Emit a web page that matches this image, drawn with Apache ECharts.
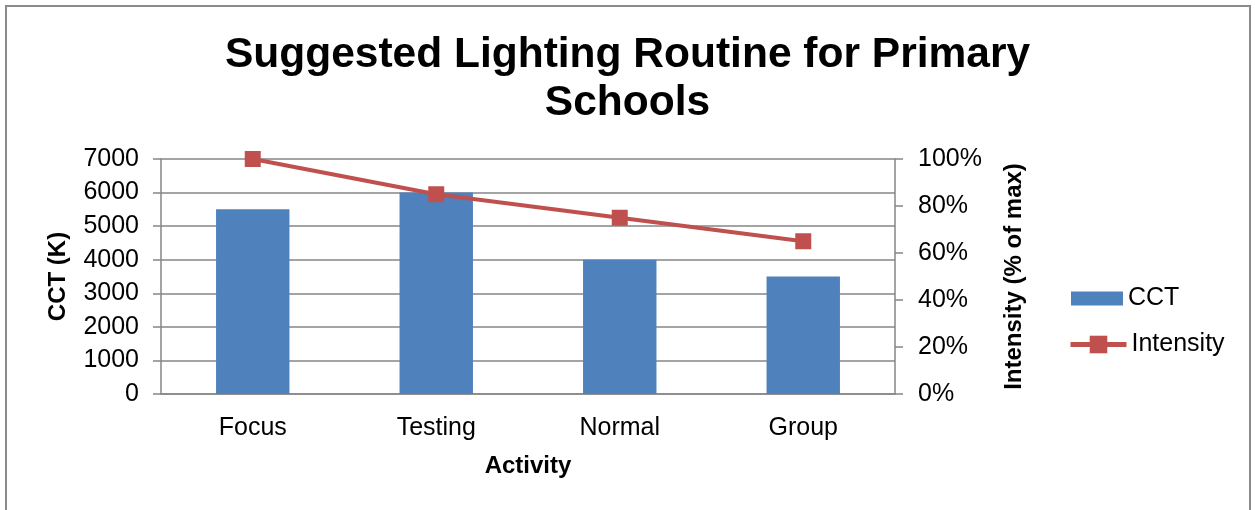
<!DOCTYPE html>
<html>
<head>
<meta charset="utf-8">
<script src="https://cdn.jsdelivr.net/npm/echarts@6/dist/echarts.min.js"></script>
<style>
  html, body { margin: 0; padding: 0; background: #fff; }
  #chart { width: 1255px; height: 510px; }
</style>
</head>
<body>
<div id="chart"></div>
<script>
// Activities and their lighting settings
const activities = ['Focus', 'Testing', 'Normal', 'Group'];
const cctValues = [5500, 6000, 4000, 3500];        // colour temperature, K
const intensityValues = [100, 85, 75, 65];          // % of maximum output

const FONT = '"Liberation Sans", Arial, sans-serif';
const AXIS_GREY = '#868686';
const BAR_BLUE = '#4F81BD';
const LINE_RED = '#C0504D';

const chart = echarts.init(document.getElementById('chart'), null, { renderer: 'canvas' });

const legendText = { fontFamily: FONT, fontSize: 25, color: '#000' };

chart.setOption({
  backgroundColor: '#ffffff',
  animation: false,
  textStyle: { fontFamily: FONT, color: '#000' },
  title: {
    text: 'Suggested Lighting Routine for Primary\nSchools',
    left: 'center',
    top: 26,
    textStyle: {
      fontFamily: FONT,
      fontSize: 42.5,
      fontWeight: 'bold',
      lineHeight: 48,
      color: '#000'
    }
  },
  graphic: [{
    type: 'rect',
    shape: { x: 6, y: 6, width: 1244, height: 530 },
    style: { fill: 'none', stroke: '#8a8a8a', lineWidth: 2 },
    silent: true
  }],
  legend: [
    {
      orient: 'vertical',
      left: 1066,
      top: 281,
      itemWidth: 52,
      itemHeight: 14,
      itemStyle: { borderWidth: 0 },
      textStyle: legendText,
      data: [{ name: 'CCT', icon: 'rect' }]
    },
    {
      orient: 'vertical',
      left: 1063,
      top: 327,
      itemWidth: 56,
      itemHeight: 22,
      itemGap: 0,
      itemStyle: { borderWidth: 0 },
      lineStyle: { width: 5, color: LINE_RED },
      textStyle: legendText,
      data: [{ name: 'Intensity' }]
    }
  ],
  grid: {
    left: 161,
    right: 360,
    top: 159,
    bottom: 116,
    containLabel: false
  },
  xAxis: {
    type: 'category',
    data: activities,
    name: 'Activity',
    nameLocation: 'middle',
    nameGap: 60,
    nameTextStyle: { fontFamily: FONT, fontSize: 24, fontWeight: 'bold', color: '#000' },
    axisLine: { lineStyle: { color: AXIS_GREY, width: 1.5 } },
    axisTick: { show: false },
    axisLabel: { fontFamily: FONT, fontSize: 25, color: '#000', margin: 22 }
  },
  yAxis: [
    {
      type: 'value',
      min: 0,
      max: 7000,
      interval: 1000,
      name: 'CCT (K)',
      nameLocation: 'middle',
      nameGap: 91,
      nameRotate: 90,
      nameTextStyle: { fontFamily: FONT, fontSize: 24, fontWeight: 'bold', color: '#000' },
      axisLine: { show: true, lineStyle: { color: AXIS_GREY, width: 1.5 } },
      axisTick: { show: true, inside: false, length: 8, lineStyle: { color: AXIS_GREY, width: 1.5 } },
      axisLabel: { fontFamily: FONT, fontSize: 25, color: '#000', margin: 22, formatter: (v) => String(v) },
      splitLine: { show: true, lineStyle: { color: AXIS_GREY, width: 1.5 } }
    },
    {
      type: 'value',
      min: 0,
      max: 100,
      interval: 20,
      position: 'right',
      name: 'Intensity (% of max)',
      nameLocation: 'middle',
      nameGap: 107,
      nameRotate: 90,
      nameTextStyle: { fontFamily: FONT, fontSize: 24, fontWeight: 'bold', color: '#000' },
      axisLine: { show: true, lineStyle: { color: AXIS_GREY, width: 1.5 } },
      axisTick: { show: true, inside: false, length: 8, lineStyle: { color: AXIS_GREY, width: 1.5 } },
      axisLabel: { fontFamily: FONT, fontSize: 25, color: '#000', margin: 23, formatter: '{value}%' },
      splitLine: { show: false }
    }
  ],
  series: [
    {
      name: 'CCT',
      type: 'bar',
      yAxisIndex: 0,
      data: cctValues,
      barWidth: '40%',
      itemStyle: { color: BAR_BLUE }
    },
    {
      name: 'Intensity',
      type: 'line',
      yAxisIndex: 1,
      data: intensityValues,
      symbol: 'rect',
      symbolSize: 16,
      lineStyle: { color: LINE_RED, width: 4 },
      itemStyle: { color: LINE_RED },
      z: 5
    }
  ]
});
</script>
</body>
</html>
